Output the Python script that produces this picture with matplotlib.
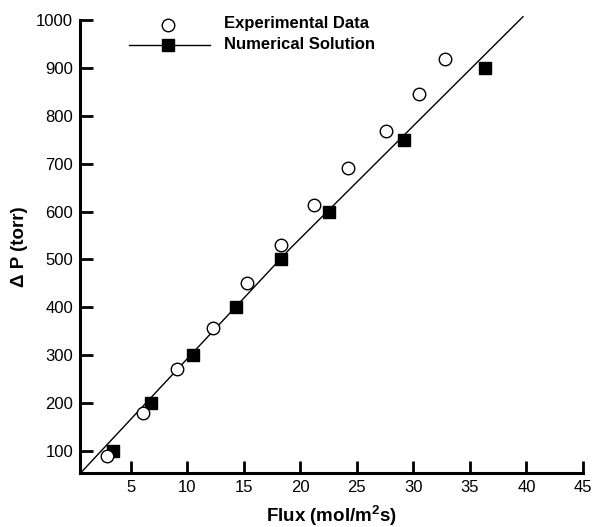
import matplotlib
matplotlib.use('Agg')
import matplotlib.pyplot as plt

plt.rcParams['font.family'] = ['Liberation Sans', 'DejaVu Sans']
plt.rcParams['mathtext.fontset'] = 'custom'
plt.rcParams['mathtext.rm'] = 'Liberation Sans:bold'
plt.rcParams['mathtext.bf'] = 'Liberation Sans:bold'

# experimental data (open circles)
exp_flux = [2.9, 6.1, 9.1, 12.3, 15.3, 18.3, 21.2, 24.2, 27.6, 30.5, 32.8]
exp_dp = [90, 179, 272, 357, 450, 530, 614, 692, 768, 846, 918]

# numerical solution (filled squares)
num_flux = [3.4, 6.8, 10.5, 14.3, 18.3, 22.5, 29.2, 36.3]
num_dp = [100, 200, 300, 400, 500, 600, 750, 900]

# solution curve
line_flux = [0.55, 19.1, 39.7]
line_dp = [54, 523, 1007]

xticks = [5, 10, 15, 20, 25, 30, 35, 40, 45]
yticks = [100, 200, 300, 400, 500, 600, 700, 800, 900, 1000]

fig = plt.figure(figsize=(5.93, 5.27), dpi=100)
ax = fig.add_axes([0.135, 0.1025, 0.848, 0.8595])

ax.plot(line_flux, line_dp, color='black', lw=1.0, clip_on=False, zorder=2)
ax.plot(num_flux, num_dp, ls='none', marker='s', ms=8, color='black',
        zorder=3)
ax.plot(exp_flux, exp_dp, ls='none', marker='o', ms=9, mfc='white',
        mec='black', mew=1.0, zorder=4)

# legend drawn by hand to mimic the original layout
ax.plot([8.3], [990], marker='o', ms=9, mfc='white', mec='black',
        mew=1.0, clip_on=False)
ax.plot([4.8, 12.0], [947, 947], color='black', lw=1.0, clip_on=False)
ax.plot([8.3], [947], marker='s', ms=8, color='black', clip_on=False)
ax.text(13.2, 992, 'Experimental Data', fontsize=12, fontweight='bold',
        va='center')
ax.text(13.2, 949, 'Numerical Solution', fontsize=12, fontweight='bold',
        va='center')

ax.set_xlim(0.5, 45)
ax.set_ylim(54, 1000)
ax.set_xticks(xticks)
ax.set_yticks(yticks)
ax.tick_params(direction='in', length=9, width=2, labelsize=12, pad=5)

for side in ['top', 'right']:
    ax.spines[side].set_visible(False)
for side in ['left', 'bottom']:
    ax.spines[side].set_linewidth(2.2)

ax.set_xlabel('Flux (mol/m$^{2}$s)', fontsize=13.5, fontweight='bold',
              labelpad=6)
ax.set_ylabel('\u0394 P (torr)', fontsize=13.5, fontweight='bold', labelpad=6)

fig.savefig('out.png', dpi=100)
